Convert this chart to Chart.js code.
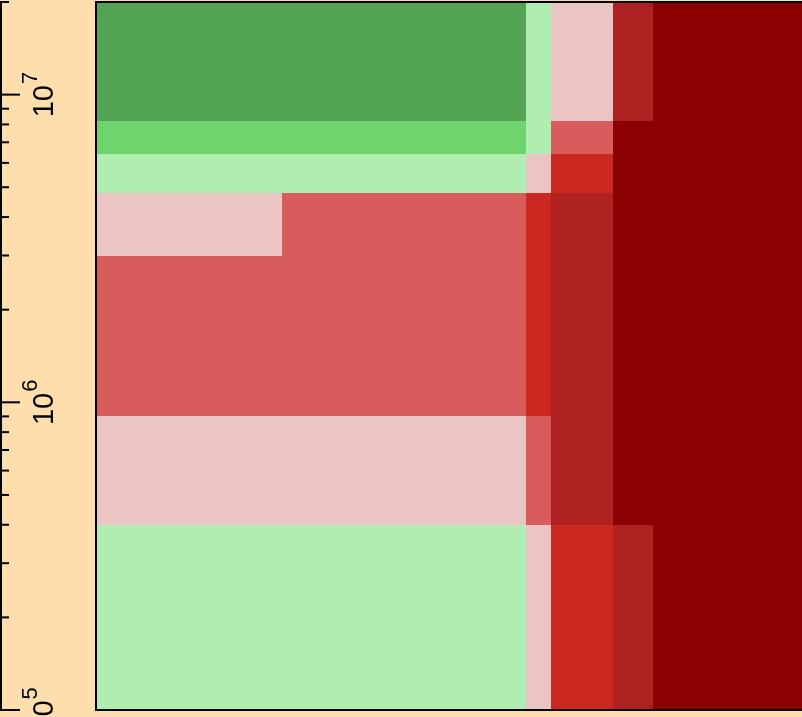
<!DOCTYPE html>
<html>
<head>
<meta charset="utf-8">
<script src="https://cdn.jsdelivr.net/npm/chart.js@4/dist/chart.umd.min.js"></script>
<style>
  html, body { margin: 0; padding: 0; background: #FFDEAD; }
  #wrap { width: 802px; height: 717px; position: relative; }
</style>
</head>
<body>
<div id="wrap"><canvas id="heatChart"></canvas></div>
<script>
// Cell edges (x in arbitrary units, y on log scale)
const xEdges = [0, 26.3, 60.9, 64.4, 73.2, 78.9, 100];
const yEdges = [1e5, 4e5, 9e5, 3e6, 4.8e6, 6.4e6, 8.2e6, 2e7];

// Colour per level
const levelColors = ['#52A352', '#6ED46E', '#B0EDB0', '#EBC4C4', '#D95C5C', '#CB2820', '#AF2020', '#8B0000'];

// Level of each cell, rows from bottom to top
const levels = [
    [2, 2, 3, 5, 6, 7],
    [3, 3, 4, 6, 7, 7],
    [4, 4, 5, 6, 7, 7],
    [3, 4, 5, 6, 7, 7],
    [2, 2, 3, 5, 7, 7],
    [1, 1, 2, 4, 7, 7],
    [0, 0, 2, 3, 6, 7]
];

// Y axis ticks
const majorTicks = [1e5, 1e6, 1e7];
const majorExponents = ['5', '6', '7'];
const minorMultipliers = [2, 3, 4, 5, 6, 7, 8, 9];

// Draw the cells through the chart scales
const heatCells = {
    id: 'heatCells',
    beforeDraw: function(chart) {
        const ctx = chart.ctx;
        ctx.save();
        ctx.fillStyle = '#FFDEAD';
        ctx.fillRect(0, 0, chart.width, chart.height);
        ctx.restore();
    },
    beforeDatasetsDraw: function(chart) {
        const ctx = chart.ctx;
        const xs = chart.scales.x;
        const ys = chart.scales.y;
        ctx.save();
        levels.forEach(function(row, r) {
            const yTop = ys.getPixelForValue(yEdges[r + 1]);
            const yBot = ys.getPixelForValue(yEdges[r]);
            row.forEach(function(level, c) {
                const xL = xs.getPixelForValue(xEdges[c]);
                const xR = xs.getPixelForValue(xEdges[c + 1]);
                ctx.fillStyle = levelColors[level];
                ctx.fillRect(Math.round(xL), Math.round(yTop), Math.round(xR) - Math.round(xL), Math.round(yBot) - Math.round(yTop));
            });
        });
        ctx.restore();
    },
    afterDraw: function(chart) {
        const ctx = chart.ctx;
        const area = chart.chartArea;
        const ys = chart.scales.y;
        ctx.save();

        // frame: left, top, bottom
        ctx.strokeStyle = '#000';
        ctx.lineWidth = 2;
        ctx.beginPath();
        ctx.moveTo(area.right + 2, area.top);
        ctx.lineTo(area.left, area.top);
        ctx.lineTo(area.left, area.bottom);
        ctx.lineTo(area.right + 2, area.bottom);
        ctx.stroke();

        // y axis line at the far left
        ctx.beginPath();
        ctx.moveTo(1, ys.getPixelForValue(ys.max));
        ctx.lineTo(1, ys.getPixelForValue(ys.min));
        ctx.stroke();

        // minor ticks
        for (let e = 5; e <= 7; e++) {
            minorMultipliers.forEach(function(m) {
                const v = m * Math.pow(10, e);
                if (v > ys.max * 1.001) return;
                const y = ys.getPixelForValue(v);
                ctx.beginPath();
                ctx.moveTo(0, y);
                ctx.lineTo(9, y);
                ctx.stroke();
            });
        }

        // major ticks and rotated labels
        majorTicks.forEach(function(v, i) {
            const y = ys.getPixelForValue(v);
            ctx.beginPath();
            ctx.moveTo(0, y);
            ctx.lineTo(20, y);
            ctx.stroke();

            ctx.save();
            ctx.translate(53, y);
            ctx.rotate(-Math.PI / 2);
            ctx.fillStyle = '#000';
            ctx.textBaseline = 'alphabetic';
            ctx.textAlign = 'left';
            ctx.font = '29px "Liberation Sans", Arial, sans-serif';
            const baseW = ctx.measureText('10').width;
            ctx.font = '22px "Liberation Sans", Arial, sans-serif';
            const supW = ctx.measureText(majorExponents[i]).width;
            const start = -(baseW + supW + 1) / 2;
            ctx.font = '29px "Liberation Sans", Arial, sans-serif';
            ctx.fillText('10', start, 0);
            ctx.font = '22px "Liberation Sans", Arial, sans-serif';
            ctx.fillText(majorExponents[i], start + baseW + 1, -16);
            ctx.restore();
        });

        ctx.restore();
    }
};

const chart = new Chart(document.getElementById('heatChart'), {
    type: 'scatter',
    data: { datasets: [] },
    options: {
        responsive: true,
        maintainAspectRatio: false,
        animation: false,
        layout: { padding: { left: 96, top: 2, right: 0, bottom: 7 } },
        plugins: {
            legend: { display: false },
            tooltip: { enabled: false }
        },
        scales: {
            x: { type: 'linear', display: false, min: xEdges[0], max: xEdges[xEdges.length - 1] },
            y: { type: 'logarithmic', display: false, min: yEdges[0], max: yEdges[yEdges.length - 1] }
        }
    },
    plugins: [heatCells]
});
</script>
</body>
</html>
